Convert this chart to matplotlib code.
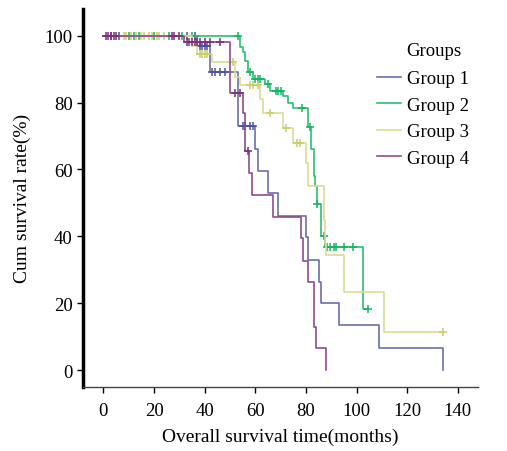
import matplotlib
matplotlib.use('Agg')
import matplotlib.pyplot as plt

plt.rcParams['font.family'] = ['Liberation Serif', 'DejaVu Serif']

# Kaplan-Meier step data (months, survival %)
g1_t = [0, 37, 42, 53, 60, 61, 65, 69, 80, 81, 85, 86, 93, 109, 134]
g1_s = [100, 97, 89, 73, 66, 59.4, 53, 46, 39.7, 33, 26.2, 20, 13.4, 6.6, 0]
g1_ct = [3, 6, 33, 36, 38, 39, 40, 41, 43, 44, 46, 48, 55, 56, 58, 59]
g1_cs = [100, 100, 100, 100, 97, 97, 97, 97, 89, 89, 89, 89, 73, 73, 73, 73]

g2_t = [0, 54, 55, 56, 57, 59, 64, 66, 71, 73, 75, 81, 82, 83, 83.5, 84.5, 86, 87.5, 102.4, 104.5]
g2_s = [100, 96.5, 95, 92.5, 89, 87, 85.5, 83.5, 82, 80, 78.5, 72.8, 66, 58, 55, 49.6, 40, 36.7, 18.2, 18.2]
g2_ct = [10, 12, 14, 20, 26, 31, 35, 53, 58, 60, 61, 62, 65, 68, 69, 70,
         78.6, 81.5, 84.5, 87, 88.5, 89.5, 91, 92, 95, 98.5, 104.5]
g2_cs = [100, 100, 100, 100, 100, 100, 100, 100, 89, 87, 87, 87, 85.5, 83.5, 83.5, 83.5,
         78.5, 72.8, 49.6, 40, 36.7, 36.7, 36.7, 36.7, 36.7, 36.7, 18.2]

g3_t = [0, 35, 37, 43, 52, 54, 62, 63, 71, 75, 80, 81, 87, 87.5, 88, 95, 111, 134]
g3_s = [100, 97, 94.5, 92, 87.5, 85.4, 81, 77, 72.5, 68, 62, 55.2, 45, 38, 34.5, 23.3, 11.5, 11.5]
g3_ct = [8, 9, 11, 13, 15, 16, 18, 19, 21, 22, 24, 38, 39, 40, 41, 51,
         58, 59, 61, 66, 72, 76.5, 77.5, 134]
g3_cs = [100, 100, 100, 100, 100, 100, 100, 100, 100, 100, 100, 94.5, 94.5, 94.5, 94.5, 92,
         85.4, 85.4, 85.4, 77, 72.5, 68, 68, 11.5]

g4_t = [0, 32, 50, 55, 56, 57.5, 58.5, 67, 78, 79, 81, 83, 84, 88]
g4_s = [100, 98, 83, 77, 65.4, 59, 52.3, 45.7, 39.4, 32.5, 26.2, 12.8, 6.6, 0]
g4_ct = [1, 2, 3, 4, 5, 27, 28, 30, 33, 34, 35, 36, 37, 38, 40, 42, 46, 52, 54, 57]
g4_cs = [100, 100, 100, 100, 100, 100, 100, 100, 98, 98, 98, 98, 98, 98, 98, 98, 98, 83, 83, 65.4]

labels = ['Group 1', 'Group 2', 'Group 3', 'Group 4']
line_colors = ['#6b70a8', '#2bbf72', '#d9dc95', '#8d4b8e']
mark_colors = ['#4a529c', '#13b563', '#c9cd6a', '#7b2f7c']

fig = plt.figure(figsize=(5.07, 4.52), dpi=100)
ax = fig.add_axes([0.164, 0.142, 0.779, 0.836])

groups = [(g1_t, g1_s, g1_ct, g1_cs), (g2_t, g2_s, g2_ct, g2_cs),
          (g3_t, g3_s, g3_ct, g3_cs), (g4_t, g4_s, g4_ct, g4_cs)]
for (t, s, ct, cs), lab, lc, mc in zip(groups, labels, line_colors, mark_colors):
    ax.step(t, s, where='post', color=lc, lw=1.2, label=lab)
    ax.plot(ct, cs, ls='none', marker='+', ms=6, mew=1.1, color=mc)

ax.set_xlim(-8, 148)
ax.set_ylim(-5, 108)
ax.set_xticks(range(0, 141, 20))
ax.set_yticks(range(0, 101, 20))
ax.tick_params(labelsize=13.5, length=4, width=1, direction='out', colors='black')
ax.tick_params(axis='x', pad=7)
ax.spines['top'].set_visible(False)
ax.spines['right'].set_visible(False)
ax.spines['left'].set_linewidth(2.5)
ax.spines['left'].set_color('black')
ax.spines['bottom'].set_linewidth(1.0)
ax.spines['bottom'].set_color('#444444')

ax.set_xlabel('Overall survival time(months)', fontsize=14, labelpad=6)
ax.set_ylabel('Cum survival rate(%)', fontsize=14, labelpad=10)

fig.text(406 / 507, 1 - 51 / 452, 'Groups', fontsize=13.5, va='center', ha='left')
leg = ax.legend(loc='upper left', bbox_to_anchor=(377 / 507, 1 - 71 / 452),
                bbox_transform=fig.transFigure, frameon=False, fontsize=13.5,
                handlelength=1.3, handletextpad=0.3, labelspacing=0.5,
                borderpad=0, borderaxespad=0)

fig.savefig('out.png', dpi=100)
